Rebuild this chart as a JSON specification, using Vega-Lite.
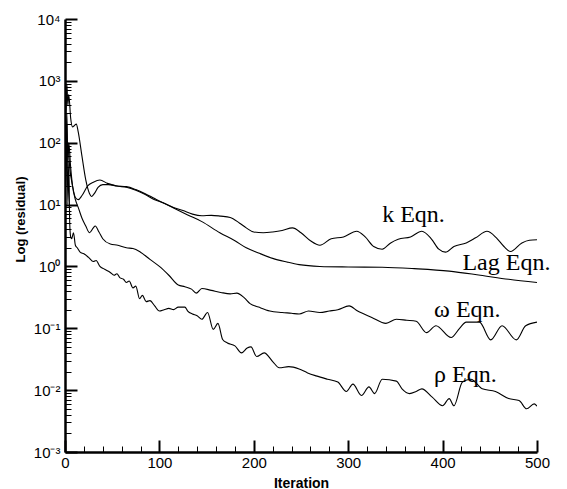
{
  "$schema": "https://vega.github.io/schema/vega-lite/v6.json",
  "width": 472,
  "height": 433,
  "autosize": {"type": "none"},
  "padding": {"left": 65, "top": 19, "right": 30, "bottom": 37},
  "background": "white",
  "config": {"view": {"stroke": null}},
  "datasets": {
    "lines": [
      {"s":"k","x":0,"v":800},{"s":"k","x":1,"v":300},{"s":"k","x":2,"v":900},{"s":"k","x":3,"v":400},{"s":"k","x":4,"v":600},{"s":"k","x":6,"v":250},{"s":"k","x":8,"v":180},{"s":"k","x":10,"v":190},{"s":"k","x":12,"v":200},{"s":"k","x":14,"v":150},{"s":"k","x":18,"v":60},{"s":"k","x":22,"v":25},{"s":"k","x":26,"v":15},{"s":"k","x":28,"v":13.5},{"s":"k","x":31,"v":15},{"s":"k","x":35,"v":19},{"s":"k","x":40,"v":21},{"s":"k","x":46,"v":21},{"s":"k","x":55,"v":20},{"s":"k","x":65,"v":19.5},{"s":"k","x":75,"v":17.5},{"s":"k","x":85,"v":15},{"s":"k","x":95,"v":12.5},{"s":"k","x":105,"v":10.5},{"s":"k","x":115,"v":9},{"s":"k","x":125,"v":8},{"s":"k","x":135,"v":7},{"s":"k","x":145,"v":6.6},{"s":"k","x":155,"v":6.7},{"s":"k","x":165,"v":6.5},{"s":"k","x":175,"v":6.2},{"s":"k","x":185,"v":5},{"s":"k","x":192,"v":4.2},{"s":"k","x":200,"v":3.6},{"s":"k","x":210,"v":3.5},{"s":"k","x":220,"v":3.6},{"s":"k","x":230,"v":3.8},{"s":"k","x":241,"v":4.2},{"s":"k","x":250,"v":3.5},{"s":"k","x":260,"v":2.6},{"s":"k","x":270,"v":2.2},{"s":"k","x":282,"v":2.8},{"s":"k","x":295,"v":3.0},{"s":"k","x":309,"v":3.7},{"s":"k","x":318,"v":3.0},{"s":"k","x":327,"v":2.1},{"s":"k","x":336,"v":1.9},{"s":"k","x":345,"v":2.4},{"s":"k","x":353,"v":2.75},{"s":"k","x":366,"v":3.0},{"s":"k","x":378,"v":3.7},{"s":"k","x":388,"v":2.8},{"s":"k","x":396,"v":1.9},{"s":"k","x":403,"v":1.7},{"s":"k","x":412,"v":2.1},{"s":"k","x":425,"v":2.4},{"s":"k","x":435,"v":2.9},{"s":"k","x":447,"v":3.7},{"s":"k","x":457,"v":2.9},{"s":"k","x":465,"v":2.1},{"s":"k","x":472,"v":1.74},{"s":"k","x":484,"v":2.4},{"s":"k","x":492,"v":2.65},{"s":"k","x":500,"v":2.7},

      {"s":"lag","x":0,"v":30},{"s":"lag","x":1,"v":150},{"s":"lag","x":2,"v":60},{"s":"lag","x":3,"v":100},{"s":"lag","x":5,"v":40},{"s":"lag","x":8,"v":20},{"s":"lag","x":11,"v":13},{"s":"lag","x":14,"v":12},{"s":"lag","x":18,"v":14},{"s":"lag","x":24,"v":20},{"s":"lag","x":30,"v":23},{"s":"lag","x":37,"v":25},{"s":"lag","x":45,"v":22},{"s":"lag","x":55,"v":20},{"s":"lag","x":65,"v":19},{"s":"lag","x":75,"v":17},{"s":"lag","x":85,"v":14.5},{"s":"lag","x":95,"v":12},{"s":"lag","x":105,"v":10.5},{"s":"lag","x":115,"v":8.8},{"s":"lag","x":130,"v":6.8},{"s":"lag","x":145,"v":5.3},{"s":"lag","x":164,"v":3.5},{"s":"lag","x":180,"v":2.6},{"s":"lag","x":192,"v":2.0},{"s":"lag","x":205,"v":1.65},{"s":"lag","x":220,"v":1.35},{"s":"lag","x":235,"v":1.18},{"s":"lag","x":248,"v":1.07},{"s":"lag","x":270,"v":1.0},{"s":"lag","x":300,"v":0.98},{"s":"lag","x":336,"v":0.97},{"s":"lag","x":370,"v":0.92},{"s":"lag","x":407,"v":0.84},{"s":"lag","x":440,"v":0.72},{"s":"lag","x":470,"v":0.62},{"s":"lag","x":500,"v":0.55},

      {"s":"w","x":0,"v":500},{"s":"w","x":1,"v":50},{"s":"w","x":2,"v":300},{"s":"w","x":3,"v":48},{"s":"w","x":4,"v":100},{"s":"w","x":6,"v":40},{"s":"w","x":8,"v":20},{"s":"w","x":11,"v":12},{"s":"w","x":14,"v":9},{"s":"w","x":18,"v":6},{"s":"w","x":22,"v":4.5},{"s":"w","x":26,"v":3.5},{"s":"w","x":30,"v":4.2},{"s":"w","x":32,"v":4.5},{"s":"w","x":36,"v":3.6},{"s":"w","x":40,"v":2.8},{"s":"w","x":48,"v":2.3},{"s":"w","x":56,"v":2.2},{"s":"w","x":65,"v":2.0},{"s":"w","x":72,"v":1.95},{"s":"w","x":80,"v":1.7},{"s":"w","x":90,"v":1.3},{"s":"w","x":100,"v":1.0},{"s":"w","x":110,"v":0.72},{"s":"w","x":120,"v":0.5},{"s":"w","x":127,"v":0.47},{"s":"w","x":134,"v":0.43},{"s":"w","x":139,"v":0.37},{"s":"w","x":145,"v":0.44},{"s":"w","x":155,"v":0.41},{"s":"w","x":165,"v":0.38},{"s":"w","x":175,"v":0.36},{"s":"w","x":182,"v":0.37},{"s":"w","x":190,"v":0.31},{"s":"w","x":196,"v":0.25},{"s":"w","x":205,"v":0.22},{"s":"w","x":217,"v":0.19},{"s":"w","x":230,"v":0.18},{"s":"w","x":240,"v":0.175},{"s":"w","x":248,"v":0.17},{"s":"w","x":258,"v":0.19},{"s":"w","x":270,"v":0.18},{"s":"w","x":280,"v":0.19},{"s":"w","x":289,"v":0.2},{"s":"w","x":301,"v":0.23},{"s":"w","x":310,"v":0.19},{"s":"w","x":325,"v":0.15},{"s":"w","x":340,"v":0.12},{"s":"w","x":351,"v":0.14},{"s":"w","x":362,"v":0.135},{"s":"w","x":372,"v":0.13},{"s":"w","x":383,"v":0.085},{"s":"w","x":393,"v":0.11},{"s":"w","x":409,"v":0.071},{"s":"w","x":418,"v":0.1},{"s":"w","x":425,"v":0.126},{"s":"w","x":439,"v":0.126},{"s":"w","x":451,"v":0.065},{"s":"w","x":463,"v":0.11},{"s":"w","x":478,"v":0.065},{"s":"w","x":488,"v":0.11},{"s":"w","x":500,"v":0.126},

      {"s":"r","x":0,"v":1000},{"s":"r","x":1,"v":20},{"s":"r","x":2,"v":200},{"s":"r","x":3,"v":10},{"s":"r","x":4,"v":50},{"s":"r","x":5,"v":5},{"s":"r","x":6,"v":3},{"s":"r","x":7,"v":2.8},{"s":"r","x":9,"v":3.5},{"s":"r","x":11,"v":2.2},{"s":"r","x":13,"v":2.0},{"s":"r","x":16,"v":1.7},{"s":"r","x":20,"v":1.6},{"s":"r","x":25,"v":1.4},{"s":"r","x":30,"v":1.2},{"s":"r","x":33,"v":1.25},{"s":"r","x":37,"v":1.0},{"s":"r","x":42,"v":0.9},{"s":"r","x":48,"v":0.8},{"s":"r","x":52,"v":0.72},{"s":"r","x":55,"v":0.76},{"s":"r","x":58,"v":0.66},{"s":"r","x":62,"v":0.62},{"s":"r","x":65,"v":0.55},{"s":"r","x":68,"v":0.58},{"s":"r","x":72,"v":0.45},{"s":"r","x":75,"v":0.48},{"s":"r","x":79,"v":0.3},{"s":"r","x":82,"v":0.34},{"s":"r","x":86,"v":0.27},{"s":"r","x":90,"v":0.28},{"s":"r","x":95,"v":0.23},{"s":"r","x":100,"v":0.19},{"s":"r","x":105,"v":0.2},{"s":"r","x":110,"v":0.21},{"s":"r","x":115,"v":0.2},{"s":"r","x":120,"v":0.22},{"s":"r","x":127,"v":0.22},{"s":"r","x":130,"v":0.19},{"s":"r","x":135,"v":0.17},{"s":"r","x":140,"v":0.16},{"s":"r","x":145,"v":0.14},{"s":"r","x":151,"v":0.18},{"s":"r","x":157,"v":0.096},{"s":"r","x":162,"v":0.12},{"s":"r","x":167,"v":0.066},{"s":"r","x":172,"v":0.058},{"s":"r","x":180,"v":0.052},{"s":"r","x":187,"v":0.04},{"s":"r","x":193,"v":0.048},{"s":"r","x":197,"v":0.05},{"s":"r","x":203,"v":0.035},{"s":"r","x":211,"v":0.04},{"s":"r","x":220,"v":0.029},{"s":"r","x":227,"v":0.023},{"s":"r","x":237,"v":0.024},{"s":"r","x":248,"v":0.022},{"s":"r","x":257,"v":0.019},{"s":"r","x":266,"v":0.017},{"s":"r","x":278,"v":0.015},{"s":"r","x":289,"v":0.0135},{"s":"r","x":298,"v":0.0095},{"s":"r","x":305,"v":0.0125},{"s":"r","x":314,"v":0.0082},{"s":"r","x":322,"v":0.0113},{"s":"r","x":328,"v":0.0088},{"s":"r","x":336,"v":0.015},{"s":"r","x":351,"v":0.014},{"s":"r","x":357,"v":0.0105},{"s":"r","x":365,"v":0.0088},{"s":"r","x":372,"v":0.0095},{"s":"r","x":378,"v":0.0105},{"s":"r","x":389,"v":0.0077},{"s":"r","x":400,"v":0.0056},{"s":"r","x":407,"v":0.0073},{"s":"r","x":412,"v":0.0056},{"s":"r","x":421,"v":0.0135},{"s":"r","x":430,"v":0.015},{"s":"r","x":442,"v":0.0105},{"s":"r","x":456,"v":0.0095},{"s":"r","x":470,"v":0.0073},{"s":"r","x":481,"v":0.0068},{"s":"r","x":489,"v":0.005},{"s":"r","x":497,"v":0.006},{"s":"r","x":500,"v":0.0055}
    ],
    "labels": [
      {"x":336,"v":5.3,"label":"k Eqn."},
      {"x":421,"v":0.89,"label":"Lag Eqn."},
      {"x":391,"v":0.155,"label":"ω Eqn."},
      {"x":391,"v":0.0135,"label":"ρ Eqn."}
    ]
  },
  "layer": [
    {
      "data": {"name": "lines"},
      "mark": {"type": "line", "color": "black", "strokeWidth": 1.1, "interpolate": "monotone", "clip": true},
      "encoding": {
        "x": {
          "field": "x", "type": "quantitative",
          "scale": {"domain": [0, 500], "nice": false, "zero": false},
          "axis": {
            "title": "Iteration",
            "tickCount": 1000,
            "values": [0,20,40,60,80,100,120,140,160,180,200,220,240,260,280,300,320,340,360,380,400,420,440,460,480,500],
            "labelExpr": "indexof([0,100,200,300,400,500], datum.value) >= 0 ? '' + datum.value : ''",
            "grid": false,
            "domainColor": "black", "domainWidth": 2.5,
            "tickColor": "black",
            "tickSize": {"condition": {"test": "indexof([0,100,200,300,400,500], datum.value) >= 0", "value": -12}, "value": -6},
            "tickWidth": {"condition": {"test": "indexof([0,100,200,300,400,500], datum.value) >= 0", "value": 2}, "value": 1},
            "labelFont": "Liberation Sans", "labelFontSize": 15, "labelColor": "black",
            "labelPadding": 15, "labelOverlap": false, "labelFlush": false,
            "titleFont": "Liberation Sans", "titleFontSize": 14, "titleFontWeight": "bold", "titleColor": "black",
            "titlePadding": 0
          }
        },
        "y": {
          "field": "v", "type": "quantitative",
          "scale": {"type": "log", "domain": [0.001, 10000], "nice": false},
          "axis": {
            "title": "Log (residual)",
            "tickCount": 1000,
            "values": [0.001,0.002,0.003,0.004,0.005,0.006,0.007,0.008,0.009,0.01,0.02,0.03,0.04,0.05,0.06,0.07,0.08,0.09,0.1,0.2,0.3,0.4,0.5,0.6,0.7,0.8,0.9,1,2,3,4,5,6,7,8,9,10,20,30,40,50,60,70,80,90,100,200,300,400,500,600,700,800,900,1000,2000,3000,4000,5000,6000,7000,8000,9000,10000],
            "labelExpr": "datum.value == 10000 ? '10⁴' : datum.value == 1000 ? '10³' : datum.value == 100 ? '10²' : datum.value == 10 ? '10¹' : datum.value == 1 ? '10⁰' : datum.value == 0.1 ? '10⁻¹' : datum.value == 0.01 ? '10⁻²' : datum.value == 0.001 ? '10⁻³' : ''",
            "grid": false,
            "domainColor": "black", "domainWidth": 2.5,
            "tickColor": "black",
            "tickSize": {"condition": {"test": "indexof([0.001,0.01,0.1,1,10,100,1000,10000], datum.value) >= 0", "value": -12}, "value": -6},
            "tickWidth": {"condition": {"test": "indexof([0.001,0.01,0.1,1,10,100,1000,10000], datum.value) >= 0", "value": 2}, "value": 1},
            "labelFont": "Liberation Sans", "labelFontSize": 15, "labelColor": "black",
            "labelPadding": 17, "labelOverlap": false, "labelFlush": false,
            "titleFont": "Liberation Sans", "titleFontSize": 13, "titleFontWeight": "bold", "titleColor": "black",
            "titlePadding": 6,
            "titleY": 200
          }
        },
        "detail": {"field": "s"}
      }
    },
    {
      "data": {"name": "labels"},
      "mark": {"type": "text", "align": "left", "baseline": "alphabetic", "font": "Liberation Serif", "fontSize": 24, "color": "black"},
      "encoding": {
        "x": {"field": "x", "type": "quantitative"},
        "y": {"field": "v", "type": "quantitative"},
        "text": {"field": "label"}
      }
    }
  ]
}
